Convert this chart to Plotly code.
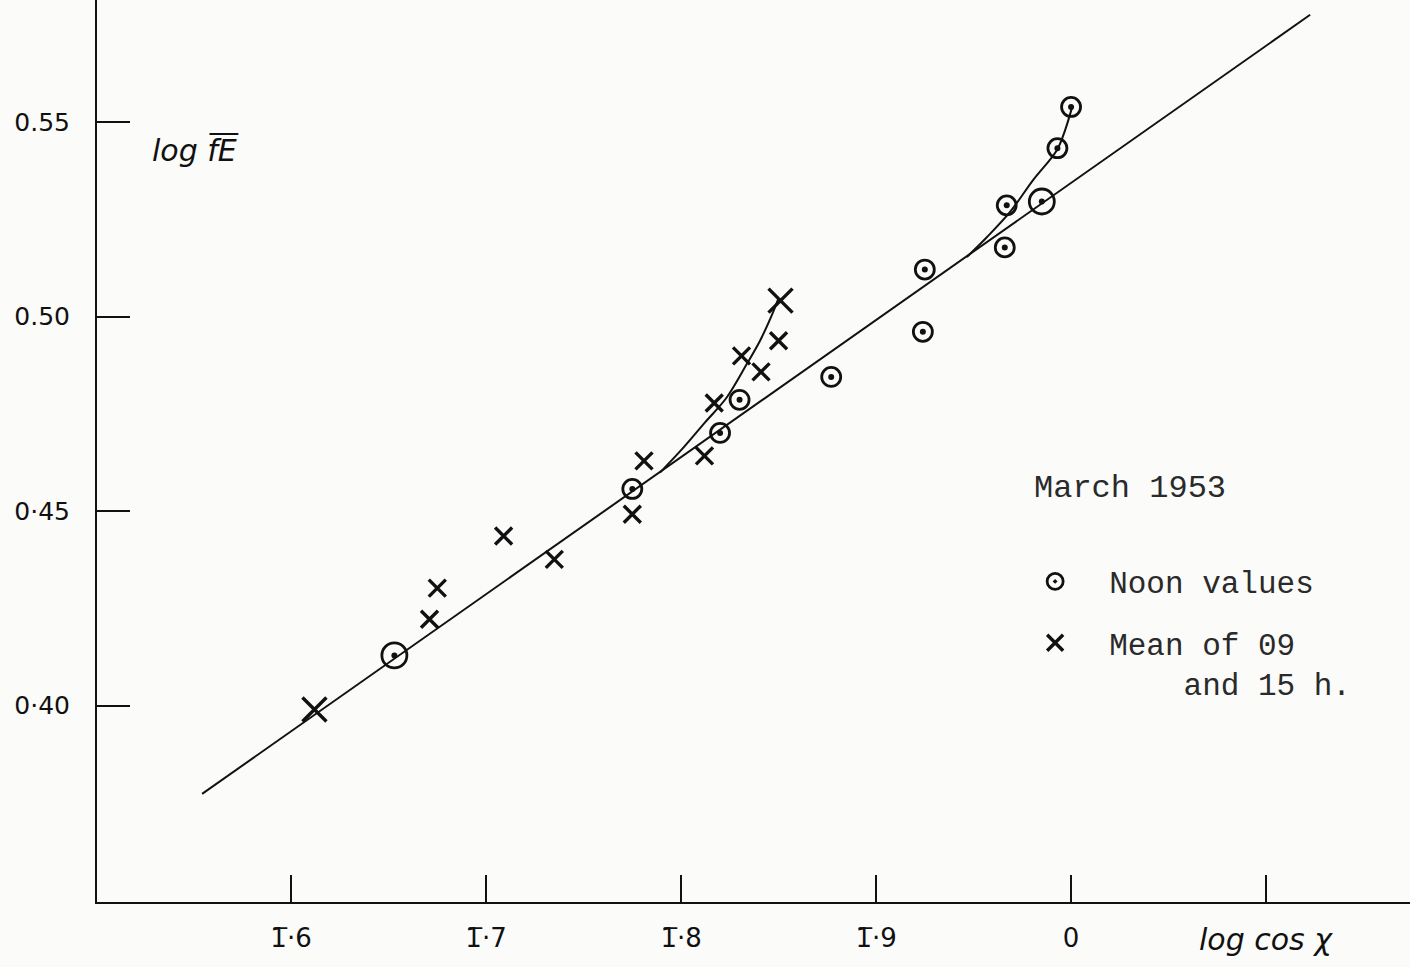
import plotly.graph_objects as go

# ---- data ----
noon_x = [-0.347, -0.225, -0.180, -0.170, -0.123, -0.076, -0.075, -0.034, -0.033, -0.015, -0.007, 0.000]
noon_y = [0.4129, 0.4557, 0.4701, 0.4786, 0.4845, 0.4961, 0.5121, 0.5178, 0.5286, 0.5296, 0.5433, 0.5539]
noon_size = [25, 19, 19, 19, 19, 19, 19, 19, 19, 25, 19, 19]

mean_x = [-0.388, -0.329, -0.325, -0.291, -0.265, -0.225, -0.219, -0.188, -0.183, -0.169, -0.159, -0.150, -0.149]
mean_y = [0.3990, 0.4222, 0.4302, 0.4436, 0.4376, 0.4492, 0.4629, 0.4642, 0.4778, 0.4899, 0.4858, 0.4938, 0.5041]
mean_size = [24, 17, 17, 17, 17, 17, 17, 17, 17, 17, 17, 17, 24]

fit_x = [-0.4456, 0.1226]
fit_y = [0.3773, 0.5776]

curve_mean_x = [-0.2108, -0.1988, -0.1877, -0.1766, -0.1663, -0.1595, -0.1535, -0.1501]
curve_mean_y = [0.4599, 0.4663, 0.4728, 0.4792, 0.4878, 0.4938, 0.5003, 0.5046]

curve_noon_x = [-0.0535, -0.0432, -0.0313, -0.0195, -0.0073, -0.0031, 0.0004]
curve_noon_y = [0.5153, 0.5204, 0.5269, 0.5351, 0.5428, 0.5479, 0.5536]

x_tickvals = [-0.4, -0.3, -0.2, -0.1, 0.0, 0.1]
x_ticktext = ["1\u0305\u00b76", "1\u0305\u00b77", "1\u0305\u00b78", "1\u0305\u00b79", "0", ""]
y_tickvals = [0.40, 0.45, 0.50, 0.55]
y_ticktext = ["0\u00b740", "0\u00b745", "0.50", "0.55"]

INK = "#111111"
BG = "#fbfbfa"
HAND = "DejaVu Sans"
TYPE = "Liberation Mono"

fig = go.Figure()

fig.add_trace(go.Scatter(x=fit_x, y=fit_y, mode="lines",
                         line=dict(color=INK, width=2), showlegend=False, hoverinfo="skip"))
fig.add_trace(go.Scatter(x=curve_mean_x, y=curve_mean_y, mode="lines", line_shape="spline",
                         line=dict(color=INK, width=2), showlegend=False, hoverinfo="skip"))
fig.add_trace(go.Scatter(x=curve_noon_x, y=curve_noon_y, mode="lines", line_shape="spline",
                         line=dict(color=INK, width=2), showlegend=False, hoverinfo="skip"))

fig.add_trace(go.Scatter(
    x=noon_x, y=noon_y, mode="markers", name="Noon values", legendgroup="a",
    marker=dict(symbol="circle-open-dot", size=noon_size, color=INK, opacity=1,
                line=dict(color=INK, width=2.8))))
# centre dots of the noon-value symbols
fig.add_trace(go.Scatter(
    x=noon_x, y=noon_y, mode="markers", showlegend=False, hoverinfo="skip",
    marker=dict(symbol="circle", size=6, color=INK, opacity=1, line=dict(width=0))))
fig.add_trace(go.Scatter(
    x=mean_x, y=mean_y, mode="markers",
    name="Mean of 09<br>\u00a0\u00a0\u00a0\u00a0and 15 h.", legendgroup="b",
    marker=dict(symbol="x-thin-open", size=mean_size, color=INK, opacity=1,
                line=dict(color=INK, width=3.4))))

fig.update_layout(
    width=1410, height=967,
    margin=dict(l=97, r=0, t=0, b=65),
    paper_bgcolor=BG, plot_bgcolor=BG,
    showlegend=True,
    legend=dict(x=0.6886, y=0.385, xanchor="left", yanchor="top",
                bgcolor="rgba(0,0,0,0)", itemwidth=98, valign="top",
                tracegroupgap=18,
                font=dict(family=TYPE, size=31, color="#2a2a2a")),
    xaxis=dict(range=[-0.4995, 0.1738], showgrid=False, zeroline=False,
               showline=True, linecolor=INK, linewidth=2,
               ticks="inside", ticklen=27, tickwidth=2, tickcolor=INK,
               tickvals=x_tickvals, ticktext=x_ticktext, ticklabelstandoff=12,
               tickfont=dict(family=HAND, size=26, color=INK)),
    yaxis=dict(range=[0.3495, 0.5814], showgrid=False, zeroline=False,
               showline=True, linecolor=INK, linewidth=2,
               ticks="inside", ticklen=33, tickwidth=2, tickcolor=INK,
               tickvals=y_tickvals, ticktext=y_ticktext, ticklabelstandoff=20,
               tickfont=dict(family=HAND, size=25, color=INK)),
    annotations=[
        dict(text="<i>log</i> <i>f\u0305E\u0305</i>", xref="paper", yref="paper",
             x=0.040, y=0.834, xanchor="left", yanchor="middle", showarrow=False,
             font=dict(family=HAND, size=30, color=INK)),
        dict(text="<i>log cos \u03c7</i>", xref="x", yref="paper",
             x=0.1, y=-0.042, xanchor="center", yanchor="middle", showarrow=False,
             font=dict(family=HAND, size=30, color=INK)),
        dict(text="March 1953", xref="paper", yref="paper",
             x=0.712, y=0.458, xanchor="left", yanchor="middle", showarrow=False,
             font=dict(family=TYPE, size=32, color="#2a2a2a")),
    ],
)

fig.write_html("out.html", config={"displayModeBar": False},
               post_script="document.body.style.margin='0';document.body.style.background='%s';" % BG)
